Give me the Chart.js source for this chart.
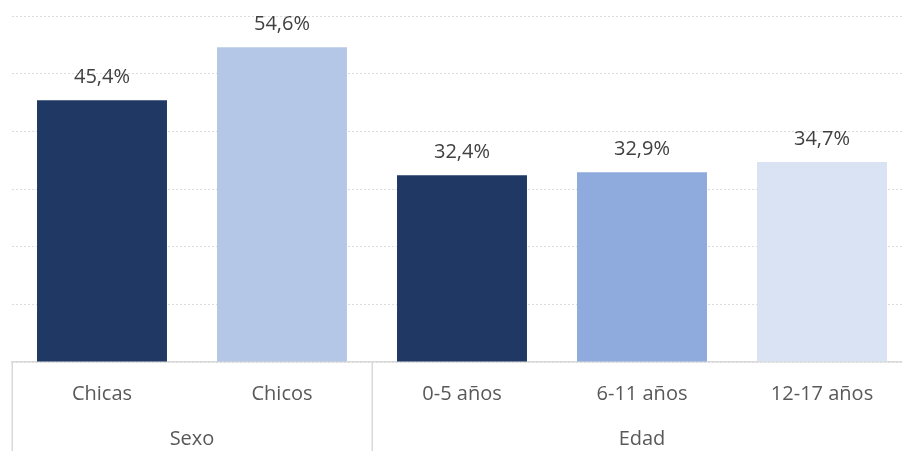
<!DOCTYPE html>
<html>
<head>
<meta charset="utf-8">
<script src="https://cdn.jsdelivr.net/npm/chart.js@4/dist/chart.umd.min.js"></script>
<style>
  html, body { margin: 0; padding: 0; background: #fff; overflow: hidden; }
  #wrap { width: 902px; height: 451px; overflow: hidden; }
</style>
</head>
<body>
<div id="wrap"><canvas id="chart" width="912" height="451"></canvas></div>
<script>
// categories and values (percent)
const categories = ['Chicas', 'Chicos', '0-5 años', '6-11 años', '12-17 años'];
const values = [45.4, 54.6, 32.4, 32.9, 34.7];
const barColors = ['#203864', '#B4C7E7', '#203864', '#8FAADC', '#DAE3F3'];

// second level of the category axis
const groupLabels = ['Sexo', 'Edad'];
const groupSizes = [2, 3];

const FONT = '"Open Sans", "Noto Sans", sans-serif';

// value labels above each bar
const barLabels = {
  id: 'barLabels',
  afterDatasetsDraw(chart) {
    const ctx = chart.ctx;
    const meta = chart.getDatasetMeta(0);
    ctx.save();
    ctx.font = '20px ' + FONT;
    ctx.fillStyle = '#404040';
    ctx.textAlign = 'center';
    ctx.textBaseline = 'bottom';
    meta.data.forEach((bar, i) => {
      ctx.fillText(values[i].toFixed(1).replace('.', ',') + '%', bar.x, bar.y - 13);
    });
    ctx.restore();
  }
};

// group boxes and group labels under the category labels
const groupAxis = {
  id: 'groupAxis',
  afterDraw(chart) {
    const ctx = chart.ctx;
    const x = chart.scales.x;
    const step = (x.right - x.left) / categories.length;
    const top = chart.chartArea.bottom;
    const bottom = chart.height;
    ctx.save();
    ctx.strokeStyle = '#d9d9d9';
    ctx.lineWidth = 1.5;
    ctx.font = '20px ' + FONT;
    ctx.fillStyle = '#595959';
    ctx.textAlign = 'center';
    ctx.textBaseline = 'middle';
    let start = 0;
    const edges = [0];
    groupSizes.forEach((n, g) => {
      const x0 = x.getPixelForTick(start) - step / 2;
      const x1 = x.getPixelForTick(start + n - 1) + step / 2;
      ctx.fillText(groupLabels[g], (x0 + x1) / 2, 439);
      start += n;
      edges.push(start);
    });
    edges.forEach(e => {
      const px = Math.round(x.left + e * step) + 0.25;
      ctx.beginPath();
      ctx.moveTo(px, top);
      ctx.lineTo(px, bottom);
      ctx.stroke();
    });
    ctx.restore();
  }
};

new Chart(document.getElementById('chart'), {
  type: 'bar',
  data: {
    labels: categories,
    datasets: [{
      data: values,
      backgroundColor: barColors,
      borderWidth: 0,
      categoryPercentage: 1,
      barPercentage: 0.722
    }]
  },
  options: {
    responsive: false,
    animation: false,
    layout: { padding: { left: 12, right: 0, top: 16, bottom: 0 } },
    plugins: {
      legend: { display: false },
      tooltip: { enabled: false }
    },
    scales: {
      x: {
        grid: { display: false, drawTicks: false },
        border: { display: true, color: '#d9d9d9', width: 1.5 },
        ticks: {
          padding: 20,
          color: '#595959',
          font: { family: FONT, size: 20 },
          maxRotation: 0,
          autoSkip: false
        },
        afterFit(scale) { scale.height = 89; }
      },
      y: {
        min: 0,
        max: 60,
        ticks: { display: false, stepSize: 10 },
        border: { display: false, dash: [2, 2] },
        grid: { color: '#dcdcdc', drawTicks: false, lineWidth: 1 },
        afterFit(scale) { scale.width = 0; }
      }
    }
  },
  plugins: [barLabels, groupAxis]
});
</script>
</body>
</html>
